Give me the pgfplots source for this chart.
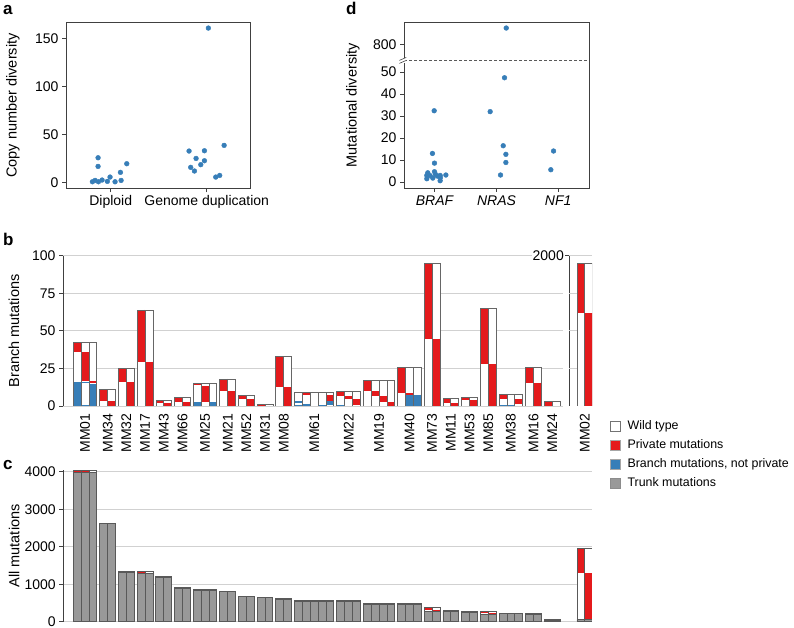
\documentclass[border=0pt]{standalone}
\usepackage{fontspec}
\setmainfont{Liberation Sans}
\usepackage{pgfplots}
\usepackage{pgfplotstable}
\pgfplotsset{compat=1.18}
\definecolor{cbred}{HTML}{E41A1C}
\definecolor{cbblue}{HTML}{377EB8}
\definecolor{cbgray}{HTML}{999999}
\newcommand{\tickfont}{\fontsize{14}{16}\selectfont}
\newcommand{\labfont}{\fontsize{14.5}{17}\selectfont}

% bars: x position, branch total, trunk mutations
\pgfplotstableread{
x tot tr
0.5 42.1 3990
1.5 42.1 3990
2.5 42.1 3990
3.88 11.1 2620
4.88 11.1 2620
6.26 25.1 1317
7.26 25.1 1317
8.64 63.9 1278
9.64 63.9 1278
11.02 3.5 1196
12.02 3.5 1196
13.40 5.8 900
14.40 5.8 900
15.78 15.1 847
16.78 15.1 847
17.78 15.1 847
19.16 18.0 800
20.16 18.0 800
21.54 7.1 669
22.54 7.1 669
23.92 1.1 657
24.92 1.1 657
26.30 33.0 588
27.30 33.0 588
28.68 9.1 551
29.68 9.1 551
30.68 9.1 551
31.68 9.1 551
32.68 9.1 551
34.06 10.0 550
35.06 10.0 550
36.06 10.0 550
37.44 17.1 472
38.44 17.1 472
39.44 17.1 472
40.44 17.1 472
41.82 25.9 472
42.82 25.9 472
43.82 25.9 472
45.20 95.1 278
46.20 95.1 278
47.58 4.9 288
48.58 4.9 288
49.96 5.8 261
50.96 5.8 261
52.34 65.0 200
53.34 65.0 200
54.72 8.0 223
55.72 8.0 223
56.72 8.0 223
58.10 26.0 185
59.10 26.0 185
60.48 2.9 50
61.48 2.9 50
64.64 1899 60
65.64 1899 60
}\bars

% private mutation segments: x, top, height, trunk
\pgfplotstableread{
x y1 h tr
0.5 42.1 6.4 3990
1.5 35.7 19.1 3990
2.5 16.6 1.1 3990
3.88 11.1 7.6 2620
4.88 3.5 3.5 2620
6.26 25.1 9.4 1317
7.26 15.7 15.7 1317
8.64 63.9 34.4 1278
9.64 29.5 29.5 1278
11.02 3.5 1.7 1196
12.02 1.8 1.8 1196
13.40 5.8 3.1 900
14.40 2.7 2.7 900
15.78 15.1 1.1 847
16.78 13.3 10.6 847
19.16 18.0 8.2 800
20.16 9.8 9.8 800
21.54 7.1 2.4 669
22.54 4.7 4.7 669
23.92 1.1 1.1 657
26.30 33.0 20.6 588
27.30 12.4 12.4 588
29.68 9.1 2.0 551
32.68 7.0 3.5 551
34.06 10.0 3.1 550
35.06 6.9 2.0 550
36.06 4.4 3.7 550
37.44 17.1 7.3 472
38.44 9.8 3.1 472
39.44 6.7 3.8 472
40.44 2.9 2.9 472
41.82 25.9 17.3 472
42.82 8.6 1.0 472
43.82 7.6 0.5 472
45.20 95.1 50.3 278
46.20 44.8 44.8 278
47.58 4.9 3.1 288
48.58 1.8 1.8 288
49.96 5.8 1.8 261
50.96 4.0 4.0 261
52.34 65.0 37.3 200
53.34 27.7 27.7 200
54.72 8.0 3.3 223
56.72 4.7 3.4 223
58.10 26.0 10.5 185
59.10 15.5 15.5 185
60.48 2.9 2.9 50
64.64 1899 665 60
65.64 1234 1234 60
}\segred

% branch (not private) segments
\pgfplotstableread{
x y1 h tr
0.5 15.7 15.7 3990
1.5 15.7 0.6 3990
1.5 0.7 0.7 3990
2.5 14.6 14.6 3990
15.78 2.7 2.7 847
17.78 2.7 2.7 847
28.68 3.3 1.5 551
28.68 0.7 0.7 551
29.68 1.5 1.5 551
31.68 0.6 0.6 551
32.68 3.5 2.8 551
34.06 0.6 0.6 550
42.82 7.3 7.3 472
43.82 7.1 7.1 472
54.72 0.6 0.6 223
55.72 0.6 0.6 223
}\segblue

\pgfplotsset{
  every axis/.append style={
    scale only axis,
    tick label style={font=\tickfont},
    label style={font=\labfont},
    /pgf/number format/assume math mode=true,
    /pgf/number format/1000 sep={},
    tick align=outside,
    major tick length=4pt,
    tick style={black!75, line width=0.7pt},
    axis line style={black!75, line width=0.7pt},
  },
  seg/.style={draw=none, mark=none, forget plot,
    error bars/y dir=minus, error bars/y explicit, error bars/error mark=none,
    error bars/error bar style={line width=7.853pt, draw=#1, solid}},
  barbase/.style={ybar, bar width=1, bar shift=0pt, forget plot},
  stripaxis/.style={x=7.853pt, axis lines*=left, axis line style={-}, separate axis lines,
    x axis line style={draw=none}, xtick style={draw=none}, ymajorgrids,
    grid style={black!18, line width=0.8pt}},
  dotaxis/.style={clip=false, tick pos=left},
}

\begin{document}
\begin{tikzpicture}
\useasboundingbox (0pt,0pt) rectangle (794pt,628pt);

% ---------- panel a ----------
\begin{axis}[dotaxis, at={(66pt,439.7pt)}, anchor=south west, width=184.7pt, height=165.6pt,
  xmin=0.534, xmax=2.458, ymin=-5.8, ymax=166.7,
  xtick={1,2}, xticklabels={Diploid, Genome duplication},
  ytick={0,50,100,150},
  ylabel={Copy number diversity},
  ylabel style={at={(axis description cs:-0.287,0.5)}, anchor=center}]
\draw[black!75, line width=0.7pt] (rel axis cs:0,0) rectangle (rel axis cs:1,1);
\addplot[only marks, mark=*, mark size=2.4pt, color=cbblue] coordinates {
(0.809,1.0) (0.837,2.4) (0.872,1.0) (0.910,2.8) (0.965,1.4) (0.993,5.9)
(1.045,1.0) (1.101,10.8) (1.108,2.4) (1.167,19.8) (0.868,26.0) (0.868,17.0)
(1.816,33.0) (1.833,16.0) (1.872,12.2) (1.889,25.3) (1.938,18.8) (1.976,33.3)
(1.976,22.9) (2.017,161.1) (2.094,5.9) (2.135,7.6) (2.181,38.9)};
\end{axis}

% ---------- panel d ----------
\begin{axis}[dotaxis, at={(404pt,440pt)}, anchor=south west, width=185pt, height=165.7pt,
  xmin=0.5, xmax=3.5, ymin=-2.7, ymax=72.6,
  xtick={1,2,3}, xticklabels={\textit{BRAF}, \textit{NRAS}, \textit{NF1}},
  ytick={0,10,20,30,40,50,62.6}, yticklabels={0,10,20,30,40,50,800},
  ylabel={Mutational diversity},
  ylabel style={at={(axis description cs:-0.276,0.5)}, anchor=center}]
\draw[black!75, line width=0.7pt] (rel axis cs:0,0) rectangle (rel axis cs:1,1);
\draw[black!65, line width=0.6pt, dash pattern=on 3pt off 2pt] (axis cs:0.5,55.3) -- (axis cs:3.5,55.3);
\addplot[only marks, mark=*, mark size=2.4pt, color=cbblue] coordinates {
(0.989,32.4) (0.961,13.0) (0.994,8.6) (0.886,4.2) (0.870,3.0) (0.870,1.5)
(0.923,2.9) (0.967,1.8) (0.994,4.7) (1.010,3.5) (1.042,2.7) (1.086,3.0)
(1.086,0.6) (1.179,3.2) (1.090,2.0)
(2.158,70.0) (2.130,47.4) (1.897,32.0) (2.109,16.5) (2.152,12.6) (2.152,8.9) (2.065,3.2)
(2.925,14.1) (2.881,5.6)};
\fill[white] (axis description cs:-0.03,0.757) rectangle (axis description cs:0.012,0.783);
\draw[black!75, line width=0.6pt] (axis description cs:-0.025,0.752) -- (axis description cs:0.012,0.770);
\draw[black!75, line width=0.6pt] (axis description cs:-0.025,0.770) -- (axis description cs:0.012,0.788);
\end{axis}

% ---------- panel b (main) ----------
\begin{axis}[stripaxis, at={(63pt,222pt)}, anchor=south west, y=1.503pt,
  xmin=-1.31, xmax=62.3, ymin=0, ymax=100,
  ytick={0,25,50,75,100},
  xtick={1.5,4.38,6.76,9.14,11.52,13.90,16.78,19.66,22.04,24.42,26.80,30.68,35.06,38.94,42.82,45.70,48.08,50.46,52.84,55.72,58.60,60.98},
  xticklabels={MM01,MM34,MM32,MM17,MM43,MM66,MM25,MM21,MM52,MM31,MM08,MM61,MM22,MM19,MM40,MM73,MM11,MM53,MM85,MM38,MM16,MM24},
  xticklabel style={rotate=90, anchor=east},
  ylabel={Branch mutations},
  ylabel style={at={(axis description cs:-0.098,0.5)}, anchor=center}]
\addplot[barbase, fill=white, draw=none] table[x=x, y=tot] {\bars};
\addplot[seg=cbred] table[x=x, y=y1, y error=h] {\segred};
\addplot[seg=cbblue] table[x=x, y=y1, y error=h] {\segblue};
\addplot[barbase, fill=none, draw=black!60, line width=0.8pt] table[x=x, y=tot] {\bars};
\end{axis}

% ---------- panel b (MM02, own scale) ----------
\begin{axis}[stripaxis, at={(569pt,222pt)}, anchor=south west, y=0.07515pt,
  xmin=63.12, xmax=66.05, ymin=0, ymax=2000,
  ytick={2000}, yticklabels={2000},
  yticklabel style={fill=white, inner sep=1pt},
  extra y ticks={500,1000,1500}, extra y tick labels={},
  extra y tick style={grid=major, major tick length=0pt},
  xtick={65.14}, xticklabels={MM02},
  xticklabel style={rotate=90, anchor=east}]
\addplot[barbase, fill=white, draw=none] table[x=x, y=tot] {\bars};
\addplot[seg=cbred] table[x=x, y=y1, y error=h] {\segred};
\addplot[barbase, fill=none, draw=black!60, line width=0.8pt] table[x=x, y=tot] {\bars};
\end{axis}

% ---------- panel c ----------
\begin{axis}[stripaxis, at={(63.3pt,6.2pt)}, anchor=south west, y=0.0375pt,
  xmin=-1.27, xmax=66.05, ymin=0, ymax=4050,
  ytick={0,1000,2000,3000,4000}, xtick=\empty,
  ylabel={All mutations},
  ylabel style={at={(axis description cs:-0.093,0.5)}, anchor=center},
  legend style={at={(1.028,1.345)}, anchor=north west, draw=none, fill=none,
    font=\fontsize{12.4}{14}\selectfont, row sep=5.3pt, column sep=6pt,
    nodes={inner sep=1pt, text height=9pt, text depth=2.5pt}},
  legend cell align=left]
\addplot[barbase, fill=white, draw=none] table[x=x, y expr=\thisrow{tot}+\thisrow{tr}] {\bars};
\addplot[seg=cbred] table[x=x, y expr=\thisrow{y1}+\thisrow{tr}, y error=h] {\segred};
\addplot[seg=cbblue] table[x=x, y expr=\thisrow{y1}+\thisrow{tr}, y error=h] {\segblue};
\addplot[barbase, fill=cbgray, draw=black!65, line width=0.8pt] table[x=x, y=tr] {\bars};
\addplot[barbase, fill=none, draw=black!65, line width=0.8pt] table[x=x, y expr=\thisrow{tot}+\thisrow{tr}] {\bars};
\addlegendimage{legend image code/.code={\draw[fill=white, draw=black!55, line width=0.6pt] (0pt,-5pt) rectangle (10pt,5pt);}}
\addlegendentry{Wild type}
\addlegendimage{legend image code/.code={\draw[fill=cbred, draw=black!35, line width=0.4pt] (0pt,-5pt) rectangle (10pt,5pt);}}
\addlegendentry{Private mutations}
\addlegendimage{legend image code/.code={\draw[fill=cbblue, draw=black!35, line width=0.4pt] (0pt,-5pt) rectangle (10pt,5pt);}}
\addlegendentry{Branch mutations, not private}
\addlegendimage{legend image code/.code={\draw[fill=cbgray, draw=black!45, line width=0.4pt] (0pt,-5pt) rectangle (10pt,5pt);}}
\addlegendentry{Trunk mutations}
\end{axis}

% ---------- panel letters ----------
\node[anchor=base west, inner sep=0, font=\bfseries\fontsize{17}{17}\selectfont] at (3pt,613pt) {a};
\node[anchor=base west, inner sep=0, font=\bfseries\fontsize{17}{17}\selectfont] at (346pt,613pt) {d};
\node[anchor=base west, inner sep=0, font=\bfseries\fontsize{17}{17}\selectfont] at (3pt,382pt) {b};
\node[anchor=base west, inner sep=0, font=\bfseries\fontsize{17}{17}\selectfont] at (3pt,158.5pt) {c};
\end{tikzpicture}
\end{document}
